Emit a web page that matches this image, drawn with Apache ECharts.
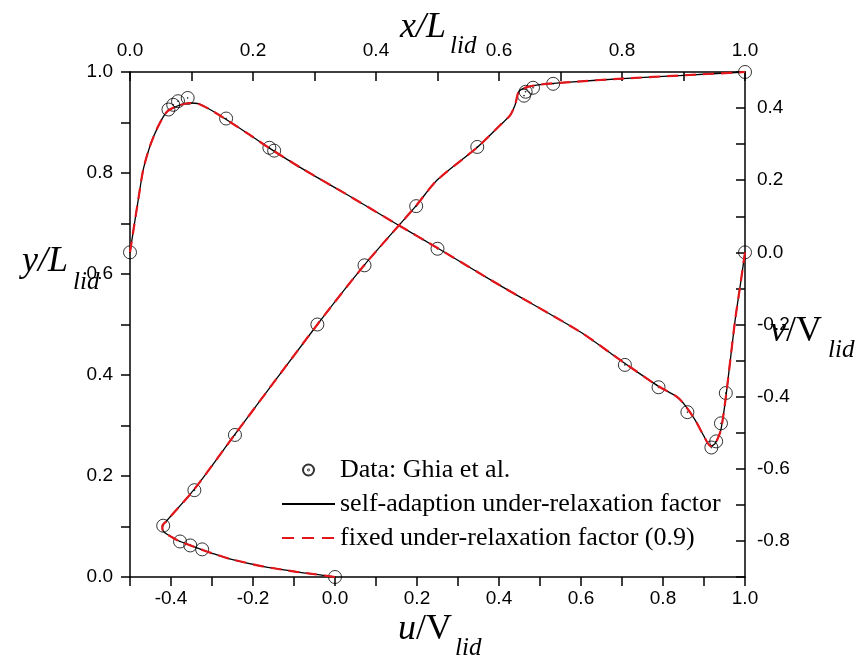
<!DOCTYPE html>
<html>
<head>
<meta charset="utf-8">
<script src="https://cdn.jsdelivr.net/npm/echarts@6/dist/echarts.min.js"></script>
<style>
html, body { margin: 0; padding: 0; background: #fff; }
#main { width: 859px; height: 664px; }
</style>
</head>
<body>
<div id="main"></div>
<script>
// Ghia et al. reference points (u along vertical centreline, v along horizontal centreline)
var ghiaY = [0.0000, 0.0547, 0.0625, 0.0703, 0.1016, 0.1719, 0.2813, 0.5000, 0.6172, 0.7344, 0.8516, 0.9531, 0.9609, 0.9688, 0.9766, 1.0000];
var ghiaU = [0.0, -0.324, -0.353, -0.378, -0.419, -0.343, -0.244, -0.043, 0.072, 0.198, 0.347, 0.461, 0.465, 0.483, 0.532, 1.0];
var ghiaX = [0.0000, 0.0625, 0.0703, 0.0781, 0.0938, 0.1563, 0.2266, 0.2344, 0.5000, 0.8047, 0.8594, 0.9063, 0.9453, 0.9531, 0.9609, 0.9688, 1.0000];
var ghiaV = [0.0, 0.396, 0.409, 0.419, 0.428, 0.371, 0.290, 0.282, 0.010, -0.312, -0.374, -0.443, -0.541, -0.524, -0.474, -0.390, 0.0];

// computed profiles (both solvers overlap)
var curveY = [0, 0.005, 0.0103, 0.021, 0.036, 0.047, 0.0547, 0.0625, 0.0718, 0.08, 0.0877, 0.095, 0.1016, 0.11, 0.1719, 0.2813, 0.5, 0.6172, 0.7344, 0.785, 0.8516, 0.894, 0.914, 0.934, 0.947, 0.957, 0.964, 0.970, 0.975, 0.980, 0.987, 0.9935, 1.0];
var curveU = [0, -0.045, -0.094, -0.176, -0.257, -0.300, -0.327, -0.352, -0.382, -0.400, -0.415, -0.421, -0.421, -0.412, -0.345, -0.245, -0.043, 0.071, 0.197, 0.248, 0.348, 0.402, 0.427, 0.439, 0.443, 0.446, 0.451, 0.468, 0.500, 0.573, 0.701, 0.851, 1.0];
var curveX = [0, 0.005, 0.0135, 0.0216, 0.0325, 0.046, 0.0597, 0.076, 0.0976, 0.111, 0.130, 0.154, 0.190, 0.2266, 0.282, 0.352, 0.434, 0.5, 0.6, 0.7317, 0.786, 0.8065, 0.860, 0.889, 0.902, 0.919, 0.932, 0.944, 0.951, 0.959, 0.963, 0.970, 0.984, 0.992, 1.0];
var curveV = [0, 0.055, 0.147, 0.230, 0.295, 0.350, 0.389, 0.405, 0.414, 0.412, 0.396, 0.371, 0.331, 0.289, 0.230, 0.161, 0.078, 0.012, -0.090, -0.220, -0.285, -0.310, -0.372, -0.400, -0.423, -0.465, -0.506, -0.537, -0.531, -0.502, -0.472, -0.386, -0.187, -0.095, 0.0];

// tick labels
var uLabels = ['-0.4', '-0.2', '0.0', '0.2', '0.4', '0.6', '0.8', '1.0'];
var yLabels = ['0.0', '0.2', '0.4', '0.6', '0.8', '1.0'];
var xLabels = ['0.0', '0.2', '0.4', '0.6', '0.8', '1.0'];
var vLabels = ['-0.8', '-0.6', '-0.4', '-0.2', '0.0', '0.2', '0.4'];

var names = ['Data: Ghia et al.', 'self-adaption under-relaxation factor', 'fixed under-relaxation factor (0.9)'];

function pairs(a, b) {
    return a.map(function (v, i) { return [v, b[i]]; });
}

function fmt(val) {
    var r = Math.round(val * 10) / 10;
    if (r === 0) r = 0;
    return r.toFixed(1);
}

function axis(pos, min, max, labels, inside, margin) {
    return {
        type: 'value',
        position: pos,
        min: min,
        max: max,
        interval: 0.1,
        splitLine: { show: false },
        axisLine: { onZero: false, lineStyle: { color: '#000', width: 1.5 } },
        axisTick: { inside: inside, length: 9, lineStyle: { color: '#000', width: 1.5 } },
        axisLabel: {
            margin: margin,
            color: '#000',
            fontFamily: 'Liberation Sans',
            fontSize: 19,
            formatter: function (val) {
                var s = fmt(val);
                return labels.indexOf(s) >= 0 ? s : '';
            }
        }
    };
}

var ring = 'path://M12,1A11,11,0,1,1,11.99,1ZM12,11.2A0.8,0.8,0,1,1,11.99,11.2Z';

function title(x, y, parts, subX, subY) {
    return [
        {
            type: 'text', x: x, y: y,
            style: {
                text: parts, textVerticalAlign: 'middle',
                rich: {
                    i: { fontFamily: 'Liberation Serif', fontStyle: 'italic', fontSize: 36, fill: '#000' },
                    n: { fontFamily: 'Liberation Serif', fontSize: 36, fill: '#000' }
                }
            }
        },
        {
            type: 'text', x: subX, y: subY,
            style: { text: 'lid', textVerticalAlign: 'middle', fontFamily: 'Liberation Serif', fontStyle: 'italic', fontSize: 25, fill: '#000' }
        }
    ];
}

var myChart = echarts.init(document.getElementById('main'));

var option = {
    backgroundColor: '#fff',
    animation: false,
    grid: { left: 130, right: 114, top: 72, bottom: 87, containLabel: false },
    xAxis: [
        axis('bottom', -0.5, 1.0, uLabels, false, 12),
        axis('top', 0, 1, xLabels, true, 12)
    ],
    yAxis: [
        axis('left', 0, 1, yLabels, false, 17),
        axis('right', -0.9, 0.5, vLabels, true, 12)
    ],
    legend: {
        orient: 'vertical',
        left: 276,
        top: 452,
        itemWidth: 53,
        itemHeight: 11,
        itemGap: 8,
        textStyle: { fontFamily: 'Liberation Serif', fontSize: 26, color: '#000' },
        data: [
            { name: names[0] },
            { name: names[1], itemStyle: { opacity: 0 } },
            { name: names[2], itemStyle: { opacity: 0 }, lineStyle: { width: 2, type: [12, 8] } }
        ]
    },
    graphic: [].concat(
        title(400, 28, '{i|x/L}', 450, 46),
        title(398, 630, '{i|u}{n|/V}', 455, 648),
        title(22, 262, '{i|y/L}', 73, 282),
        title(770, 332, '{i|v}{n|/V}', 828, 350)
    ),
    series: [
        {
            name: names[1], type: 'line', xAxisIndex: 0, yAxisIndex: 0,
            data: pairs(curveU, curveY), symbol: 'none', smooth: 0.25,
            lineStyle: { color: '#000', width: 1.3 }, itemStyle: { color: '#000' }
        },
        {
            name: names[1], type: 'line', xAxisIndex: 1, yAxisIndex: 1,
            data: pairs(curveX, curveV), symbol: 'none', smooth: 0.25,
            lineStyle: { color: '#000', width: 1.3 }, itemStyle: { color: '#000' }
        },
        {
            name: names[2], type: 'line', xAxisIndex: 0, yAxisIndex: 0,
            data: pairs(curveU, curveY), symbol: 'none', smooth: 0.25,
            lineStyle: { color: '#e3161b', width: 2.2, type: [11, 7] }, itemStyle: { color: '#e3161b' }
        },
        {
            name: names[2], type: 'line', xAxisIndex: 1, yAxisIndex: 1,
            data: pairs(curveX, curveV), symbol: 'none', smooth: 0.25,
            lineStyle: { color: '#e3161b', width: 2.2, type: [11, 7] }, itemStyle: { color: '#e3161b' }
        },
        {
            name: names[0], type: 'scatter', xAxisIndex: 0, yAxisIndex: 0,
            data: pairs(ghiaU, ghiaY), symbol: ring, symbolSize: 13,
            itemStyle: { color: 'rgba(0,0,0,0)', borderColor: '#000', borderWidth: 1 }
        },
        {
            name: names[0], type: 'scatter', xAxisIndex: 1, yAxisIndex: 1,
            data: pairs(ghiaX, ghiaV), symbol: ring, symbolSize: 13,
            itemStyle: { color: 'rgba(0,0,0,0)', borderColor: '#000', borderWidth: 1 }
        }
    ]
};

myChart.setOption(option);
</script>
</body>
</html>
